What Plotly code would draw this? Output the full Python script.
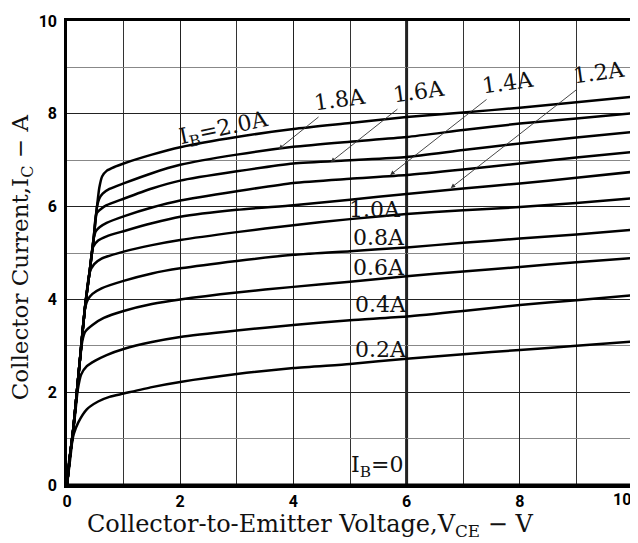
import plotly.graph_objects as go

# ---- data ----
FLAT_X = [1, 1.5, 2, 3, 4, 5, 6, 7, 8, 9, 10]

ib02_x = [0, 0.03, 0.07, 0.12, 0.2, 0.35, 0.55, 0.75] + FLAT_X
ib02_y = [0, 0.45, 0.8, 1.1, 1.35, 1.63, 1.8, 1.9, 1.97, 2.11, 2.22, 2.39, 2.52, 2.61, 2.72, 2.82, 2.91, 3.0, 3.09]

ib04_x = [0, 0.06, 0.11, 0.15, 0.19, 0.25, 0.35, 0.5, 0.7] + FLAT_X
ib04_y = [0, 0.6, 1.15, 1.6, 2.05, 2.38, 2.56, 2.68, 2.8, 2.93, 3.08, 3.19, 3.33, 3.45, 3.55, 3.63, 3.75, 3.88, 3.98, 4.09]

ib06_x = [0, 0.05, 0.11, 0.17, 0.23, 0.27, 0.32, 0.45, 0.65] + FLAT_X
ib06_y = [0, 0.6, 1.2, 1.95, 2.7, 3.1, 3.3, 3.45, 3.6, 3.75, 3.9, 4.0, 4.15, 4.27, 4.38, 4.5, 4.6, 4.7, 4.8, 4.89]

ib08_x = [0, 0.05, 0.11, 0.17, 0.24, 0.32, 0.37, 0.45, 0.61] + FLAT_X
ib08_y = [0, 0.6, 1.2, 1.95, 2.85, 3.82, 4.0, 4.12, 4.24, 4.4, 4.56, 4.67, 4.83, 4.96, 5.04, 5.12, 5.22, 5.31, 5.4, 5.5]

ib10_x = [0, 0.05, 0.11, 0.17, 0.24, 0.32, 0.4, 0.48, 0.61] + FLAT_X
ib10_y = [0, 0.6, 1.2, 1.95, 2.85, 3.85, 4.58, 4.76, 4.88, 5.03, 5.17, 5.28, 5.45, 5.6, 5.73, 5.84, 5.92, 5.99, 6.08, 6.18]

ib12_x = [0, 0.05, 0.11, 0.17, 0.24, 0.32, 0.4, 0.46, 0.55, 0.7] + FLAT_X
ib12_y = [0, 0.6, 1.2, 1.95, 2.85, 3.85, 4.6, 5.13, 5.27, 5.36, 5.47, 5.64, 5.78, 5.93, 6.03, 6.15, 6.27, 6.39, 6.5, 6.62, 6.75]

ib14_x = [0, 0.05, 0.11, 0.17, 0.24, 0.32, 0.4, 0.47, 0.51, 0.58, 0.7] + FLAT_X
ib14_y = [0, 0.6, 1.2, 1.95, 2.85, 3.85, 4.6, 5.3, 5.47, 5.56, 5.65, 5.79, 5.98, 6.13, 6.33, 6.51, 6.6, 6.68, 6.8, 6.93, 7.06, 7.18]

ib16_x = [0, 0.05, 0.11, 0.17, 0.24, 0.32, 0.4, 0.47, 0.52, 0.6, 0.7] + FLAT_X
ib16_y = [0, 0.6, 1.2, 1.95, 2.85, 3.85, 4.6, 5.3, 5.85, 5.95, 6.03, 6.17, 6.39, 6.56, 6.76, 6.93, 7.0, 7.07, 7.22, 7.36, 7.49, 7.61]

ib18_x = [0, 0.05, 0.11, 0.17, 0.24, 0.32, 0.4, 0.47, 0.53, 0.57, 0.63, 0.75] + FLAT_X
ib18_y = [0, 0.6, 1.2, 1.95, 2.85, 3.85, 4.6, 5.3, 6.0, 6.17, 6.28, 6.38, 6.5, 6.72, 6.9, 7.12, 7.29, 7.4, 7.5, 7.65, 7.79, 7.9, 8.01]

ib20_x = [0, 0.05, 0.11, 0.17, 0.24, 0.32, 0.4, 0.47, 0.53, 0.57, 0.62, 0.7, 0.85] + FLAT_X
ib20_y = [0, 0.6, 1.2, 1.95, 2.85, 3.85, 4.6, 5.3, 6.0, 6.4, 6.65, 6.77, 6.86, 6.93, 7.12, 7.28, 7.5, 7.67, 7.8, 7.93, 8.03, 8.13, 8.25, 8.37]

ib0_x = [0, 10]
ib0_y = [0, 0]

X_TICKS = [0, 2, 4, 6, 8]
Y_TICKS = [0, 2, 4, 6, 8, 10]

# labels placed directly on curves: (text, x, y)
inline_labels = [("1.0A", 5.45, 5.93), ("0.8A", 5.52, 5.34), ("0.6A", 5.52, 4.68),
                 ("0.4A", 5.55, 3.88), ("0.2A", 5.55, 2.91), ("I<sub>B</sub>=0", 5.48, 0.39)]
# labels with arrows: (text, label x, label y, arrow tip x, tip y)
arrow_labels = [("1.8A", 4.82, 8.3, 3.74, 7.24),
                ("1.6A", 6.22, 8.47, 4.66, 6.96),
                ("1.4A", 7.8, 8.68, 5.71, 6.68),
                ("1.2A", 9.4, 8.9, 6.78, 6.4)]

curves = [(ib02_x, ib02_y, "0.2A"), (ib04_x, ib04_y, "0.4A"), (ib06_x, ib06_y, "0.6A"),
          (ib08_x, ib08_y, "0.8A"), (ib10_x, ib10_y, "1.0A"), (ib12_x, ib12_y, "1.2A"),
          (ib14_x, ib14_y, "1.4A"), (ib16_x, ib16_y, "1.6A"), (ib18_x, ib18_y, "1.8A"),
          (ib20_x, ib20_y, "2.0A")]

fig = go.Figure()
for cx, cy, name in curves:
    fig.add_trace(go.Scatter(x=cx, y=cy, mode="lines", name=name,
                             line=dict(color="black", width=2.5, shape="spline", smoothing=0.6),
                             showlegend=False, hoverinfo="skip"))
fig.add_trace(go.Scatter(x=ib0_x, y=ib0_y, mode="lines", line=dict(color="black", width=3),
                         showlegend=False, cliponaxis=False, hoverinfo="skip"))

SERIF = "DejaVu Serif"
LBL = 22
ann = []
for t, x, y in inline_labels:
    ann.append(dict(x=x, y=y, text=t, showarrow=False, font=dict(family=SERIF, size=LBL, color="#111")))
ann.append(dict(x=2.78, y=7.66, text="I<sub>B</sub>=2.0A", showarrow=False, textangle=-12,
                font=dict(family=SERIF, size=LBL, color="#111")))
for t, lx, ly, px, py in arrow_labels:
    ann.append(dict(x=px, y=py, ax=lx, ay=ly, axref="x", ayref="y", text=t, showarrow=True,
                    textangle=-8, standoff=0, startstandoff=0,
                    arrowhead=2, arrowsize=1, arrowwidth=0.9, arrowcolor="#333",
                    font=dict(family=SERIF, size=LBL, color="#111")))
# x tick label at the right edge (kept inside the page)
ann.append(dict(x=10, y=0, xref="x", yref="y", text="10", showarrow=False, xanchor="right",
                yanchor="top", yshift=-3, font=dict(family="Roboto", size=16, color="black", weight="bold")))
# axis titles
ann.append(dict(x=0.43, y=-0.124, xref="paper", yref="paper", xanchor="center", yanchor="bottom",
                text="Collector-to-Emitter Voltage,V<sub>CE</sub> − V", showarrow=False,
                font=dict(family=SERIF, size=24, color="#111")))
ann.append(dict(x=-0.08, y=0.49, xref="paper", yref="paper", xanchor="center", yanchor="middle",
                text="Collector Current,I<sub>C</sub> − A", showarrow=False, textangle=-90,
                font=dict(family=SERIF, size=23, color="#111")))

fig.update_layout(
    width=630, height=535,
    margin=dict(l=59, r=2, t=13, b=58),
    paper_bgcolor="white", plot_bgcolor="white",
    annotations=ann,
    shapes=[dict(type="line", xref="x", yref="y", x0=6, x1=6, y0=0, y1=10,
                 line=dict(color="#222", width=3), layer="below")],
)
fig.update_xaxes(range=[0, 10], tickvals=X_TICKS, showgrid=True, gridcolor="#222", gridwidth=1.2,
                 minor=dict(dtick=1, showgrid=True, gridcolor="#333", gridwidth=1.1),
                 showline=True, linecolor="black", linewidth=2.5, mirror=True,
                 ticks="outside", ticklen=0, tickcolor="rgba(0,0,0,0)",
                 tickfont=dict(family="Roboto", size=16, color="black", weight="bold"), zeroline=False)
fig.update_yaxes(range=[0, 10], tickvals=Y_TICKS, showgrid=True, gridcolor="#222", gridwidth=1.2,
                 minor=dict(dtick=1, showgrid=True, gridcolor="#888", gridwidth=1.1),
                 showline=True, linecolor="black", linewidth=2.5, mirror=True,
                 ticks="outside", ticklen=4, tickcolor="rgba(0,0,0,0)",
                 tickfont=dict(family="Roboto", size=16, color="black", weight="bold"), zeroline=False)

fig.write_html("out.html")
